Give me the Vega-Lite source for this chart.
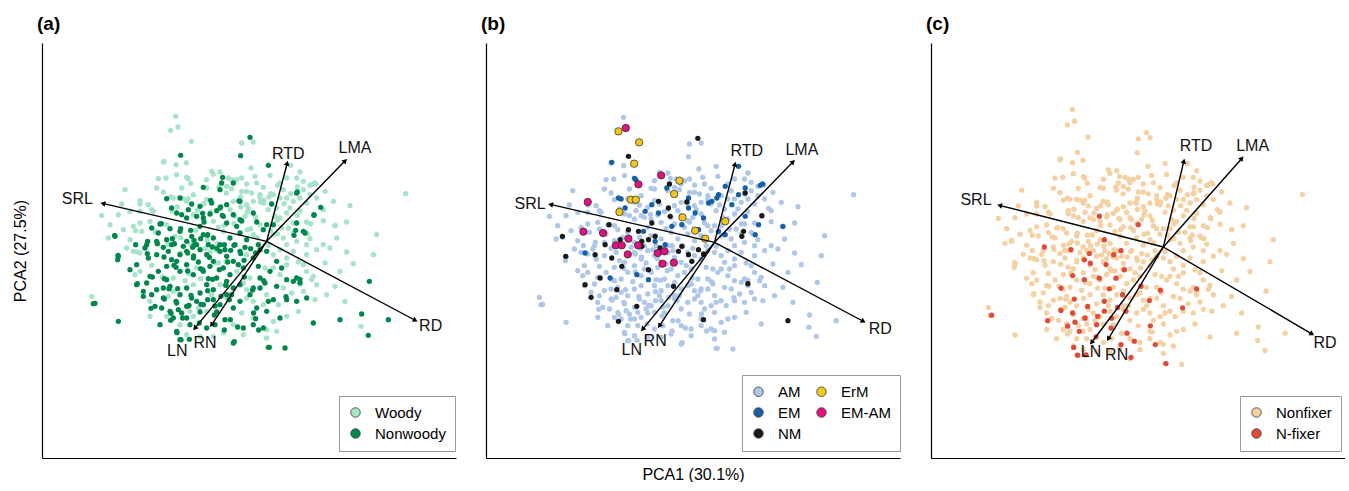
{
  "$schema": "https://vega.github.io/schema/vega-lite/v6.json",
  "padding": {"left": 12, "top": 15, "right": 0, "bottom": 0},
  "spacing": 25,
  "resolve": {"scale": {"color": "independent", "x": "independent", "y": "independent"}, "legend": {"color": "independent"}},
  "config": {
    "font": "Liberation Sans",
    "view": {"stroke": null},
    "axis": {"domainColor": "black", "domainWidth": 1.2, "ticks": false, "labels": false, "grid": false, "titleFont": "Liberation Sans", "titleFontSize": 16, "titleFontWeight": "normal", "titleColor": "black"},
    "legend": {"strokeColor": "#999", "fillColor": "white", "padding": 9, "labelFontSize": 15, "labelFont": "Liberation Sans", "labelColor": "black", "symbolType": "circle", "symbolSize": 90, "labelOffset": 12, "rowPadding": 5, "columnPadding": 12},
    "title": {"anchor": "start", "frame": "group", "fontSize": 19, "fontWeight": "bold", "dx": -5, "offset": 9, "color": "black"}
  },
  "datasets": {
    "load": [
      {"v": "SRL", "x": -489, "y": 113},
      {"v": "RTD", "x": 61, "y": 232},
      {"v": "LMA", "x": 234, "y": 240},
      {"v": "RD", "x": 444, "y": -236},
      {"v": "LN", "x": -214, "y": -259},
      {"v": "RN", "x": -164, "y": -249}
    ],
    "lab": [
      {"p": "a", "v": "SRL", "x": -568, "y": 128},
      {"p": "a", "v": "RTD", "x": 65, "y": 262},
      {"p": "a", "v": "LMA", "x": 265, "y": 280},
      {"p": "a", "v": "RD", "x": 492, "y": -255},
      {"p": "a", "v": "LN", "x": -268, "y": -328},
      {"p": "a", "v": "RN", "x": -185, "y": -305},
      {"p": "b", "v": "SRL", "x": -553, "y": 115},
      {"p": "b", "v": "RTD", "x": 97, "y": 273},
      {"p": "b", "v": "LMA", "x": 262, "y": 278},
      {"p": "b", "v": "RD", "x": 497, "y": -259},
      {"p": "b", "v": "LN", "x": -248, "y": -322},
      {"p": "b", "v": "RN", "x": -178, "y": -297},
      {"p": "c", "v": "SRL", "x": -562, "y": 127},
      {"p": "c", "v": "RTD", "x": 98, "y": 275},
      {"p": "c", "v": "LMA", "x": 268, "y": 275},
      {"p": "c", "v": "RD", "x": 485, "y": -262},
      {"p": "c", "v": "LN", "x": -217, "y": -286},
      {"p": "c", "v": "RN", "x": -140, "y": -295}
    ],
    "pts": [
      {"x":-273,"y":375,"w":"W","m":"AM","n":"F"},{"x":-75,"y":295,"w":"W","m":"AM","n":"F"},{"x":-50,"y":312,"w":"N","m":"NM","n":"F"},{"x":-40,"y":298,"w":"W","m":"AM","n":"F"},
      {"x":-78,"y":257,"w":"N","m":"AM","n":"F"},{"x":-310,"y":238,"w":"W","m":"AM","n":"F"},{"x":-272,"y":230,"w":"W","m":"AM","n":"F"},{"x":5,"y":228,"w":"N","m":"AM","n":"F"},
      {"x":-47,"y":220,"w":"W","m":"AM","n":"F"},{"x":-165,"y":210,"w":"W","m":"AM","n":"F"},{"x":-140,"y":208,"w":"W","m":"AM","n":"F"},{"x":-270,"y":200,"w":"W","m":"AM","n":"F"},
      {"x":-240,"y":192,"w":"W","m":"EM","n":"F"},{"x":-325,"y":188,"w":"W","m":"AM","n":"F"},{"x":-302,"y":190,"w":"W","m":"AM","n":"F"},{"x":-132,"y":192,"w":"N","m":"AM","n":"F"},
      {"x":-115,"y":190,"w":"W","m":"AM","n":"F"},{"x":-90,"y":185,"w":"W","m":"AM","n":"F"},{"x":-75,"y":190,"w":"W","m":"AM","n":"F"},{"x":-60,"y":172,"w":"W","m":"AM","n":"F"},
      {"x":100,"y":208,"w":"W","m":"AM","n":"F"},{"x":90,"y":190,"w":"W","m":"AM","n":"F"},{"x":-180,"y":185,"w":"W","m":"AM","n":"F"},{"x":10,"y":198,"w":"W","m":"AM","n":"F"},
      {"x":-425,"y":155,"w":"W","m":"AM","n":"F"},{"x":-310,"y":148,"w":"W","m":"AM","n":"F"},{"x":-180,"y":160,"w":"W","m":"AM","n":"F"},{"x":-190,"y":162,"w":"N","m":"AM","n":"F"},
      {"x":-140,"y":155,"w":"N","m":"AM","n":"F"},{"x":-105,"y":158,"w":"W","m":"AM","n":"F"},{"x":-100,"y":175,"w":"N","m":"AM","n":"F"},{"x":-75,"y":150,"w":"W","m":"AM","n":"F"},
      {"x":-60,"y":150,"w":"W","m":"AM","n":"F"},{"x":90,"y":145,"w":"N","m":"AM","n":"F"},{"x":130,"y":168,"w":"W","m":"AM","n":"F"},{"x":148,"y":172,"w":"W","m":"AM","n":"F"},
      {"x":110,"y":155,"w":"W","m":"AM","n":"F"},{"x":-20,"y":140,"w":"W","m":"AM","n":"F"},{"x":20,"y":140,"w":"W","m":"AM","n":"F"},{"x":-220,"y":140,"w":"W","m":"AM","n":"F"},
      {"x":-495,"y":78,"w":"W","m":"AM","n":"F"},{"x":-435,"y":112,"w":"W","m":"AM","n":"F"},{"x":-380,"y":112,"w":"W","m":"AM","n":"F"},{"x":-355,"y":110,"w":"W","m":"AM","n":"F"},
      {"x":-300,"y":128,"w":"N","m":"AM","n":"F"},{"x":-280,"y":130,"w":"W","m":"EM","n":"F"},{"x":-260,"y":130,"w":"N","m":"AM","n":"F"},{"x":-240,"y":120,"w":"W","m":"AM","n":"F"},
      {"x":-225,"y":112,"w":"N","m":"AM","n":"F"},{"x":-200,"y":105,"w":"N","m":"AM","n":"F"},{"x":-180,"y":125,"w":"W","m":"AM","n":"F"},{"x":-165,"y":115,"w":"N","m":"AM","n":"F"},
      {"x":-140,"y":100,"w":"N","m":"AM","n":"F"},{"x":-120,"y":110,"w":"N","m":"AM","n":"F"},{"x":-100,"y":120,"w":"W","m":"AM","n":"F"},{"x":-80,"y":120,"w":"N","m":"AM","n":"F"},
      {"x":-60,"y":110,"w":"W","m":"AM","n":"F"},{"x":-40,"y":120,"w":"W","m":"AM","n":"F"},{"x":-20,"y":130,"w":"W","m":"AM","n":"F"},{"x":-10,"y":115,"w":"W","m":"AM","n":"F"},
      {"x":15,"y":112,"w":"N","m":"AM","n":"F"},{"x":40,"y":130,"w":"W","m":"AM","n":"F"},{"x":60,"y":130,"w":"W","m":"AM","n":"F"},{"x":80,"y":120,"w":"W","m":"AM","n":"F"},
      {"x":100,"y":130,"w":"W","m":"AM","n":"F"},{"x":120,"y":115,"w":"W","m":"AM","n":"F"},{"x":162,"y":102,"w":"N","m":"AM","n":"F"},{"x":250,"y":107,"w":"W","m":"AM","n":"F"},
      {"x":417,"y":143,"w":"W","m":"AM","n":"F"},{"x":-445,"y":80,"w":"W","m":"AM","n":"F"},{"x":-410,"y":90,"w":"W","m":"AM","n":"F"},{"x":-380,"y":90,"w":"W","m":"AM","n":"F"},
      {"x":-340,"y":90,"w":"W","m":"AM","n":"F"},{"x":-470,"y":50,"w":"W","m":"AM","n":"F"},{"x":-380,"y":55,"w":"W","m":"AM","n":"F"},{"x":-350,"y":60,"w":"W","m":"AM","n":"F"},
      {"x":-320,"y":52,"w":"N","m":"AM","n":"F"},{"x":-300,"y":50,"w":"W","m":"AM","n":"F"},{"x":-270,"y":85,"w":"N","m":"AM","n":"F"},{"x":-255,"y":80,"w":"N","m":"AM","n":"F"},
      {"x":-240,"y":70,"w":"N","m":"AM","n":"F"},{"x":-220,"y":80,"w":"W","m":"AM","n":"F"},{"x":-210,"y":75,"w":"N","m":"AM","n":"F"},{"x":-190,"y":70,"w":"N","m":"AM","n":"F"},
      {"x":-170,"y":82,"w":"N","m":"AM","n":"F"},{"x":-160,"y":60,"w":"W","m":"AM","n":"F"},{"x":-130,"y":75,"w":"N","m":"AM","n":"F"},{"x":-120,"y":55,"w":"N","m":"AM","n":"F"},
      {"x":-100,"y":80,"w":"N","m":"AM","n":"F"},{"x":-80,"y":65,"w":"N","m":"AM","n":"F"},{"x":-65,"y":75,"w":"W","m":"AM","n":"F"},{"x":-40,"y":85,"w":"N","m":"AM","n":"F"},
      {"x":-30,"y":58,"w":"N","m":"AM","n":"F"},{"x":-20,"y":50,"w":"W","m":"AM","n":"F"},{"x":0,"y":50,"w":"N","m":"AM","n":"F"},{"x":20,"y":50,"w":"N","m":"AM","n":"F"},
      {"x":40,"y":70,"w":"W","m":"AM","n":"F"},{"x":60,"y":85,"w":"W","m":"AM","n":"F"},{"x":80,"y":55,"w":"W","m":"AM","n":"F"},{"x":90,"y":55,"w":"N","m":"AM","n":"F"},
      {"x":120,"y":58,"w":"W","m":"AM","n":"F"},{"x":142,"y":78,"w":"N","m":"AM","n":"F"},{"x":205,"y":47,"w":"W","m":"AM","n":"F"},{"x":240,"y":58,"w":"W","m":"AM","n":"F"},
      {"x":110,"y":30,"w":"N","m":"AM","n":"F"},{"x":-475,"y":10,"w":"W","m":"AM","n":"F"},{"x":-455,"y":15,"w":"N","m":"AM","n":"F"},{"x":-430,"y":35,"w":"W","m":"AM","n":"F"},
      {"x":-410,"y":5,"w":"W","m":"AM","n":"F"},{"x":-393,"y":-10,"w":"N","m":"AM","n":"F"},{"x":-375,"y":30,"w":"W","m":"AM","n":"F"},{"x":-360,"y":-10,"w":"N","m":"AM","n":"F"},
      {"x":-330,"y":0,"w":"N","m":"AM","n":"F"},{"x":-325,"y":25,"w":"N","m":"AM","n":"F"},{"x":-300,"y":5,"w":"N","m":"AM","n":"F"},{"x":-285,"y":-10,"w":"N","m":"AM","n":"F"},
      {"x":-275,"y":15,"w":"W","m":"AM","n":"F"},{"x":-260,"y":30,"w":"N","m":"AM","n":"F"},{"x":-240,"y":0,"w":"N","m":"AM","n":"F"},{"x":-225,"y":15,"w":"N","m":"AM","n":"F"},
      {"x":-210,"y":-10,"w":"N","m":"AM","n":"F"},{"x":-190,"y":20,"w":"N","m":"AM","n":"F"},{"x":-175,"y":-10,"w":"N","m":"AM","n":"F"},{"x":-160,"y":10,"w":"N","m":"AM","n":"F"},
      {"x":-140,"y":-10,"w":"N","m":"AM","n":"F"},{"x":-130,"y":30,"w":"W","m":"AM","n":"F"},{"x":-110,"y":10,"w":"N","m":"AM","n":"F"},{"x":-95,"y":-10,"w":"N","m":"AM","n":"F"},
      {"x":-80,"y":25,"w":"N","m":"AM","n":"F"},{"x":-60,"y":5,"w":"N","m":"AM","n":"F"},{"x":-40,"y":20,"w":"W","m":"AM","n":"F"},{"x":-25,"y":-10,"w":"N","m":"AM","n":"F"},
      {"x":20,"y":20,"w":"W","m":"AM","n":"F"},{"x":50,"y":10,"w":"W","m":"AM","n":"F"},{"x":80,"y":25,"w":"W","m":"AM","n":"F"},{"x":115,"y":25,"w":"N","m":"AM","n":"F"},
      {"x":120,"y":-10,"w":"W","m":"AM","n":"F"},{"x":170,"y":-10,"w":"W","m":"AM","n":"F"},{"x":60,"y":-10,"w":"W","m":"AM","n":"F"},{"x":90,"y":0,"w":"W","m":"AM","n":"F"},
      {"x":-445,"y":-45,"w":"N","m":"AM","n":"F"},{"x":-447,"y":-55,"w":"N","m":"AM","n":"F"},{"x":-400,"y":-30,"w":"W","m":"AM","n":"F"},{"x":-380,"y":-35,"w":"W","m":"AM","n":"F"},
      {"x":-365,"y":-20,"w":"N","m":"AM","n":"F"},{"x":-355,"y":-50,"w":"N","m":"AM","n":"F"},{"x":-330,"y":-40,"w":"N","m":"AM","n":"F"},{"x":-295,"y":-30,"w":"N","m":"AM","n":"F"},
      {"x":-270,"y":-60,"w":"N","m":"AM","n":"F"},{"x":-260,"y":-40,"w":"N","m":"AM","n":"F"},{"x":-240,"y":-30,"w":"N","m":"AM","n":"F"},{"x":-220,"y":-50,"w":"N","m":"AM","n":"F"},
      {"x":-200,"y":-25,"w":"N","m":"AM","n":"F"},{"x":-180,"y":-40,"w":"N","m":"AM","n":"F"},{"x":-160,"y":-60,"w":"N","m":"AM","n":"F"},{"x":-140,"y":-30,"w":"N","m":"AM","n":"F"},
      {"x":-120,"y":-45,"w":"N","m":"AM","n":"F"},{"x":-100,"y":-60,"w":"N","m":"AM","n":"F"},{"x":-80,"y":-30,"w":"N","m":"AM","n":"F"},{"x":-60,"y":-40,"w":"W","m":"AM","n":"F"},
      {"x":-40,"y":-50,"w":"N","m":"AM","n":"F"},{"x":-20,"y":-25,"w":"N","m":"AM","n":"F"},{"x":0,"y":-30,"w":"N","m":"AM","n":"F"},{"x":20,"y":-40,"w":"W","m":"AM","n":"F"},
      {"x":30,"y":-60,"w":"N","m":"AM","n":"F"},{"x":60,"y":-50,"w":"W","m":"AM","n":"F"},{"x":80,"y":-30,"w":"W","m":"AM","n":"F"},{"x":120,"y":-40,"w":"W","m":"AM","n":"F"},
      {"x":150,"y":-25,"w":"W","m":"AM","n":"F"},{"x":240,"y":-32,"w":"W","m":"AM","n":"F"},{"x":175,"y":-65,"w":"W","m":"AM","n":"F"},{"x":260,"y":-67,"w":"W","m":"AM","n":"F"},
      {"x":-390,"y":-70,"w":"N","m":"AM","n":"F"},{"x":-380,"y":-90,"w":"W","m":"AM","n":"F"},{"x":-350,"y":-105,"w":"N","m":"AM","n":"F"},{"x":-325,"y":-90,"w":"N","m":"AM","n":"F"},
      {"x":-300,"y":-75,"w":"N","m":"AM","n":"F"},{"x":-280,"y":-110,"w":"W","m":"AM","n":"F"},{"x":-260,"y":-90,"w":"N","m":"AM","n":"F"},{"x":-240,"y":-70,"w":"N","m":"AM","n":"F"},
      {"x":-220,"y":-100,"w":"N","m":"AM","n":"F"},{"x":-210,"y":-80,"w":"W","m":"AM","n":"F"},{"x":-190,"y":-90,"w":"N","m":"AM","n":"F"},{"x":-170,"y":-75,"w":"N","m":"AM","n":"F"},
      {"x":-150,"y":-110,"w":"N","m":"AM","n":"F"},{"x":-130,"y":-80,"w":"N","m":"AM","n":"F"},{"x":-110,"y":-100,"w":"N","m":"AM","n":"F"},{"x":-90,"y":-90,"w":"W","m":"AM","n":"F"},
      {"x":-70,"y":-80,"w":"N","m":"AM","n":"F"},{"x":-50,"y":-110,"w":"W","m":"AM","n":"F"},{"x":-20,"y":-110,"w":"N","m":"AM","n":"F"},{"x":10,"y":-90,"w":"N","m":"AM","n":"F"},
      {"x":20,"y":-80,"w":"W","m":"AM","n":"F"},{"x":60,"y":-70,"w":"W","m":"AM","n":"F"},{"x":90,"y":-110,"w":"N","m":"AM","n":"F"},{"x":120,"y":-90,"w":"W","m":"AM","n":"F"},
      {"x":140,"y":-105,"w":"W","m":"AM","n":"F"},{"x":-395,"y":-100,"w":"W","m":"AM","n":"F"},{"x":-390,"y":-130,"w":"N","m":"AM","n":"F"},{"x":-370,"y":-150,"w":"N","m":"AM","n":"F"},
      {"x":-330,"y":-145,"w":"N","m":"AM","n":"F"},{"x":-310,"y":-140,"w":"N","m":"AM","n":"F"},{"x":-290,"y":-135,"w":"N","m":"AM","n":"F"},{"x":-280,"y":-150,"w":"W","m":"AM","n":"F"},
      {"x":-260,"y":-160,"w":"N","m":"AM","n":"F"},{"x":-240,"y":-140,"w":"N","m":"AM","n":"F"},{"x":-220,"y":-130,"w":"W","m":"AM","n":"F"},{"x":-200,"y":-155,"w":"N","m":"AM","n":"F"},
      {"x":-180,"y":-130,"w":"N","m":"AM","n":"F"},{"x":-160,"y":-145,"w":"N","m":"AM","n":"F"},{"x":-140,"y":-130,"w":"W","m":"AM","n":"F"},{"x":-120,"y":-160,"w":"N","m":"AM","n":"F"},
      {"x":-100,"y":-140,"w":"N","m":"AM","n":"F"},{"x":-80,"y":-130,"w":"N","m":"AM","n":"F"},{"x":-60,"y":-145,"w":"W","m":"AM","n":"F"},{"x":-40,"y":-140,"w":"N","m":"AM","n":"F"},
      {"x":-20,"y":-140,"w":"N","m":"AM","n":"F"},{"x":0,"y":-160,"w":"W","m":"AM","n":"F"},{"x":30,"y":-135,"w":"N","m":"AM","n":"F"},{"x":60,"y":-115,"w":"N","m":"AM","n":"F"},
      {"x":80,"y":-120,"w":"N","m":"AM","n":"F"},{"x":100,"y":-130,"w":"W","m":"AM","n":"F"},{"x":150,"y":-130,"w":"W","m":"AM","n":"F"},{"x":205,"y":-135,"w":"W","m":"AM","n":"F"},
      {"x":308,"y":-120,"w":"N","m":"AM","n":"F"},{"x":-525,"y":-165,"w":"W","m":"AM","n":"F"},{"x":135,"y":-115,"w":"W","m":"AM","n":"F"},{"x":-520,"y":-187,"w":"N","m":"AM","n":"F"},
      {"x":-350,"y":-180,"w":"W","m":"AM","n":"F"},{"x":-335,"y":-195,"w":"N","m":"AM","n":"F"},{"x":-310,"y":-170,"w":"N","m":"AM","n":"F"},{"x":-290,"y":-210,"w":"N","m":"AM","n":"F"},
      {"x":-270,"y":-185,"w":"N","m":"AM","n":"F"},{"x":-240,"y":-195,"w":"N","m":"AM","n":"F"},{"x":-230,"y":-210,"w":"W","m":"AM","n":"F"},{"x":-210,"y":-180,"w":"N","m":"AM","n":"F"},
      {"x":-190,"y":-190,"w":"N","m":"AM","n":"F"},{"x":-180,"y":-210,"w":"W","m":"AM","n":"F"},{"x":-160,"y":-175,"w":"N","m":"AM","n":"F"},{"x":-140,"y":-190,"w":"N","m":"AM","n":"F"},
      {"x":-120,"y":-170,"w":"W","m":"AM","n":"F"},{"x":-100,"y":-200,"w":"N","m":"AM","n":"F"},{"x":-80,"y":-180,"w":"N","m":"AM","n":"F"},{"x":-60,"y":-170,"w":"W","m":"AM","n":"F"},
      {"x":-40,"y":-180,"w":"W","m":"AM","n":"F"},{"x":-30,"y":-200,"w":"N","m":"AM","n":"F"},{"x":-10,"y":-190,"w":"W","m":"AM","n":"F"},{"x":20,"y":-175,"w":"N","m":"AM","n":"F"},
      {"x":35,"y":-190,"w":"W","m":"AM","n":"F"},{"x":60,"y":-175,"w":"N","m":"AM","n":"F"},{"x":90,"y":-180,"w":"N","m":"AM","n":"F"},{"x":120,"y":-170,"w":"N","m":"AM","n":"F"},
      {"x":145,"y":-175,"w":"W","m":"AM","n":"F"},{"x":235,"y":-180,"w":"W","m":"AM","n":"F"},{"x":-445,"y":-240,"w":"N","m":"AM","n":"F"},{"x":-350,"y":-225,"w":"W","m":"AM","n":"F"},
      {"x":-300,"y":-225,"w":"W","m":"AM","n":"F"},{"x":-280,"y":-230,"w":"N","m":"AM","n":"F"},{"x":-260,"y":-250,"w":"W","m":"AM","n":"F"},{"x":-240,"y":-230,"w":"N","m":"AM","n":"F"},
      {"x":-220,"y":-225,"w":"W","m":"AM","n":"F"},{"x":-180,"y":-260,"w":"N","m":"AM","n":"F"},{"x":-155,"y":-250,"w":"N","m":"AM","n":"F"},{"x":-125,"y":-235,"w":"N","m":"AM","n":"F"},
      {"x":-100,"y":-250,"w":"W","m":"AM","n":"F"},{"x":-70,"y":-260,"w":"N","m":"AM","n":"F"},{"x":-40,"y":-230,"w":"W","m":"AM","n":"F"},{"x":-10,"y":-260,"w":"N","m":"AM","n":"F"},
      {"x":20,"y":-240,"w":"W","m":"AM","n":"F"},{"x":40,"y":-230,"w":"N","m":"AM","n":"F"},{"x":60,"y":-225,"w":"W","m":"AM","n":"F"},{"x":140,"y":-245,"w":"N","m":"AM","n":"F"},
      {"x":220,"y":-235,"w":"N","m":"NM","n":"F"},{"x":285,"y":-218,"w":"N","m":"AM","n":"F"},{"x":365,"y":-235,"w":"N","m":"AM","n":"F"},{"x":283,"y":-255,"w":"W","m":"AM","n":"F"},
      {"x":0,"y":-265,"w":"W","m":"AM","n":"F"},{"x":-270,"y":-270,"w":"N","m":"AM","n":"F"},{"x":-260,"y":-295,"w":"N","m":"AM","n":"F"},{"x":-240,"y":-280,"w":"W","m":"AM","n":"F"},
      {"x":-200,"y":-285,"w":"W","m":"AM","n":"F"},{"x":-100,"y":-305,"w":"N","m":"AM","n":"F"},{"x":-70,"y":-280,"w":"W","m":"AM","n":"F"},{"x":5,"y":-318,"w":"N","m":"AM","n":"F"},
      {"x":55,"y":-320,"w":"N","m":"AM","n":"F"},{"x":0,"y":-290,"w":"W","m":"AM","n":"F"},{"x":305,"y":-282,"w":"N","m":"AM","n":"F"},{"x":-160,"y":-285,"w":"W","m":"AM","n":"F"},
      {"x":30,"y":100,"w":"W","m":"AM","n":"F"},{"x":50,"y":155,"w":"W","m":"AM","n":"F"},{"x":70,"y":100,"w":"W","m":"AM","n":"F"},{"x":100,"y":92,"w":"W","m":"AM","n":"F"},
      {"x":130,"y":140,"w":"W","m":"AM","n":"F"},{"x":-10,"y":162,"w":"W","m":"AM","n":"F"},{"x":150,"y":130,"w":"W","m":"AM","n":"F"},{"x":170,"y":62,"w":"W","m":"AM","n":"F"},
      {"x":130,"y":8,"w":"W","m":"AM","n":"F"},{"x":45,"y":40,"w":"W","m":"AM","n":"F"},{"x":190,"y":-20,"w":"W","m":"AM","n":"F"},{"x":95,"y":-62,"w":"W","m":"AM","n":"F"},
      {"x":170,"y":95,"w":"W","m":"AM","n":"F"},{"x":-30,"y":175,"w":"W","m":"AM","n":"F"},{"x":60,"y":190,"w":"W","m":"AM","n":"F"},{"x":110,"y":-150,"w":"W","m":"AM","n":"F"},
      {"x":40,"y":-100,"w":"W","m":"AM","n":"F"},{"x":-5,"y":-80,"w":"W","m":"AM","n":"F"},{"x":25,"y":75,"w":"W","m":"AM","n":"F"},{"x":-45,"y":145,"w":"W","m":"AM","n":"F"},
      {"x":-345,"y":95,"w":"W","m":"AM","n":"F"},{"x":-285,"y":100,"w":"N","m":"AM","n":"F"},{"x":-235,"y":95,"w":"N","m":"AM","n":"F"},{"x":-150,"y":92,"w":"N","m":"AM","n":"F"},
      {"x":-110,"y":95,"w":"W","m":"AM","n":"F"},{"x":-55,"y":98,"w":"W","m":"AM","n":"F"},{"x":5,"y":95,"w":"W","m":"AM","n":"F"},{"x":-400,"y":45,"w":"W","m":"AM","n":"F"},
      {"x":-345,"y":40,"w":"N","m":"AM","n":"F"},{"x":-290,"y":38,"w":"N","m":"AM","n":"F"},{"x":-200,"y":45,"w":"N","m":"AM","n":"F"},{"x":-145,"y":42,"w":"W","m":"AM","n":"F"},
      {"x":-90,"y":45,"w":"N","m":"AM","n":"F"},{"x":-10,"y":35,"w":"N","m":"AM","n":"F"},{"x":65,"y":40,"w":"W","m":"AM","n":"F"},{"x":-420,"y":-20,"w":"W","m":"AM","n":"F"},
      {"x":-310,"y":-18,"w":"N","m":"AM","n":"F"},{"x":-250,"y":-15,"w":"N","m":"AM","n":"F"},{"x":-185,"y":-22,"w":"W","m":"AM","n":"F"},{"x":-125,"y":-25,"w":"N","m":"AM","n":"F"},
      {"x":-65,"y":-18,"w":"N","m":"AM","n":"F"},{"x":5,"y":-12,"w":"W","m":"AM","n":"F"},{"x":40,"y":-25,"w":"W","m":"AM","n":"F"},{"x":-410,"y":-85,"w":"N","m":"AM","n":"F"},
      {"x":-345,"y":-72,"w":"W","m":"AM","n":"F"},{"x":-285,"y":-55,"w":"N","m":"AM","n":"F"},{"x":-205,"y":-62,"w":"N","m":"AM","n":"F"},{"x":-145,"y":-65,"w":"W","m":"AM","n":"F"},
      {"x":-85,"y":-70,"w":"N","m":"AM","n":"F"},{"x":-25,"y":-75,"w":"N","m":"AM","n":"F"},{"x":45,"y":-80,"w":"N","m":"AM","n":"F"},{"x":110,"y":-70,"w":"W","m":"AM","n":"F"},
      {"x":-360,"y":-125,"w":"N","m":"AM","n":"F"},{"x":-300,"y":-115,"w":"N","m":"AM","n":"F"},{"x":-245,"y":-118,"w":"W","m":"AM","n":"F"},{"x":-175,"y":-112,"w":"N","m":"AM","n":"F"},
      {"x":-120,"y":-120,"w":"N","m":"AM","n":"F"},{"x":-70,"y":-125,"w":"W","m":"AM","n":"F"},{"x":-5,"y":-125,"w":"N","m":"AM","n":"F"},{"x":50,"y":-140,"w":"W","m":"AM","n":"F"},
      {"x":-345,"y":-160,"w":"N","m":"AM","n":"F"},{"x":-295,"y":-165,"w":"W","m":"AM","n":"F"},{"x":-225,"y":-170,"w":"N","m":"AM","n":"F"},{"x":-165,"y":-160,"w":"W","m":"AM","n":"F"},
      {"x":-105,"y":-160,"w":"N","m":"AM","n":"F"},{"x":-50,"y":-160,"w":"N","m":"AM","n":"F"},{"x":5,"y":-180,"w":"N","m":"AM","n":"F"},{"x":75,"y":-155,"w":"W","m":"AM","n":"F"},
      {"x":-315,"y":-200,"w":"N","m":"AM","n":"F"},{"x":-255,"y":-215,"w":"N","m":"AM","n":"F"},{"x":-205,"y":-200,"w":"W","m":"AM","n":"F"},{"x":-150,"y":-212,"w":"N","m":"AM","n":"F"},
      {"x":-75,"y":-215,"w":"W","m":"AM","n":"F"},{"x":0,"y":-210,"w":"N","m":"AM","n":"F"},{"x":95,"y":-210,"w":"W","m":"AM","n":"F"},{"x":-320,"y":-250,"w":"N","m":"AM","n":"F"},
      {"x":-230,"y":-250,"w":"N","m":"AM","n":"F"},{"x":-130,"y":-275,"w":"W","m":"AM","n":"F"},{"x":-40,"y":-250,"w":"N","m":"AM","n":"F"},{"x":30,"y":-270,"w":"W","m":"AM","n":"F"},
      {"x":-330,"y":160,"w":"W","m":"AM","n":"F"},{"x":-255,"y":160,"w":"W","m":"AM","n":"F"},{"x":-120,"y":165,"w":"W","m":"AM","n":"F"},{"x":-35,"y":195,"w":"W","m":"AM","n":"F"},
      {"x":40,"y":175,"w":"W","m":"AM","n":"F"},{"x":110,"y":180,"w":"W","m":"AM","n":"F"},{"x":175,"y":150,"w":"W","m":"AM","n":"F"},{"x":200,"y":120,"w":"W","m":"AM","n":"F"},
      {"x":210,"y":10,"w":"W","m":"AM","n":"F"},{"x":220,"y":-90,"w":"W","m":"AM","n":"F"},{"x":180,"y":-160,"w":"W","m":"AM","n":"F"},{"x":320,"y":-40,"w":"W","m":"AM","n":"F"},
      {"x":330,"y":20,"w":"W","m":"AM","n":"F"},
      {"x":-308,"y":240,"w":"W","m":"EM","n":"F"},{"x":-236,"y":188,"w":"W","m":"EM","n":"F"},{"x":-288,"y":133,"w":"W","m":"EM","n":"F"},{"x":-268,"y":103,"w":"W","m":"EM","n":"F"},
      {"x":-188,"y":113,"w":"W","m":"EM","n":"F"},{"x":-168,"y":88,"w":"W","m":"EM","n":"F"},{"x":-143,"y":163,"w":"W","m":"EM","n":"F"},{"x":-78,"y":133,"w":"W","m":"EM","n":"F"},
      {"x":-58,"y":88,"w":"W","m":"EM","n":"F"},{"x":-33,"y":73,"w":"W","m":"EM","n":"F"},{"x":-18,"y":118,"w":"W","m":"EM","n":"F"},{"x":-8,"y":123,"w":"W","m":"EM","n":"F"},
      {"x":7,"y":133,"w":"W","m":"EM","n":"F"},{"x":12,"y":143,"w":"W","m":"EM","n":"F"},{"x":32,"y":168,"w":"W","m":"EM","n":"F"},{"x":52,"y":113,"w":"W","m":"EM","n":"F"},
      {"x":72,"y":143,"w":"W","m":"EM","n":"F"},{"x":92,"y":163,"w":"W","m":"EM","n":"F"},{"x":137,"y":171,"w":"W","m":"EM","n":"F"},{"x":144,"y":175,"w":"W","m":"EM","n":"F"},
      {"x":72,"y":228,"w":"W","m":"EM","n":"F"},{"x":-48,"y":38,"w":"W","m":"EM","n":"F"},{"x":12,"y":33,"w":"W","m":"EM","n":"F"},{"x":32,"y":23,"w":"W","m":"EM","n":"F"},
      {"x":92,"y":78,"w":"W","m":"EM","n":"F"},{"x":132,"y":53,"w":"W","m":"EM","n":"F"},{"x":122,"y":23,"w":"W","m":"EM","n":"F"},{"x":205,"y":48,"w":"W","m":"EM","n":"F"},
      {"x":-213,"y":33,"w":"W","m":"EM","n":"F"},{"x":-208,"y":93,"w":"W","m":"EM","n":"F"},{"x":-178,"y":3,"w":"W","m":"EM","n":"F"},{"x":-148,"y":-7,"w":"W","m":"EM","n":"F"},
      {"x":-198,"y":-112,"w":"W","m":"EM","n":"F"},{"x":-313,"y":-107,"w":"W","m":"EM","n":"F"},{"x":-388,"y":-32,"w":"W","m":"EM","n":"F"},{"x":-233,"y":-97,"w":"W","m":"EM","n":"F"},
      {"x":-128,"y":48,"w":"W","m":"EM","n":"F"},{"x":-98,"y":53,"w":"W","m":"EM","n":"F"},{"x":-78,"y":103,"w":"W","m":"EM","n":"F"},
      {"x":-258,"y":258,"w":"N","m":"NM","n":"F"},{"x":-135,"y":175,"w":"N","m":"NM","n":"F"},{"x":-83,"y":121,"w":"N","m":"NM","n":"F"},{"x":-138,"y":103,"w":"N","m":"NM","n":"F"},
      {"x":-133,"y":78,"w":"N","m":"NM","n":"F"},{"x":-168,"y":123,"w":"N","m":"NM","n":"F"},{"x":-188,"y":58,"w":"N","m":"NM","n":"F"},{"x":-316,"y":53,"w":"N","m":"NM","n":"F"},
      {"x":-258,"y":38,"w":"N","m":"NM","n":"F"},{"x":-228,"y":33,"w":"N","m":"NM","n":"F"},{"x":-218,"y":3,"w":"N","m":"NM","n":"F"},{"x":-178,"y":18,"w":"N","m":"NM","n":"F"},
      {"x":-163,"y":-17,"w":"N","m":"NM","n":"F"},{"x":-198,"y":8,"w":"N","m":"NM","n":"F"},{"x":-283,"y":8,"w":"N","m":"NM","n":"F"},{"x":-328,"y":-7,"w":"N","m":"NM","n":"F"},
      {"x":-358,"y":-37,"w":"N","m":"NM","n":"F"},{"x":-308,"y":-47,"w":"N","m":"NM","n":"F"},{"x":-446,"y":-42,"w":"N","m":"NM","n":"F"},{"x":-456,"y":18,"w":"N","m":"NM","n":"F"},
      {"x":-388,"y":-127,"w":"N","m":"NM","n":"F"},{"x":-370,"y":-165,"w":"N","m":"NM","n":"F"},{"x":-343,"y":-107,"w":"N","m":"NM","n":"F"},{"x":-293,"y":-142,"w":"N","m":"NM","n":"F"},
      {"x":-233,"y":-192,"w":"N","m":"NM","n":"F"},{"x":-288,"y":-237,"w":"N","m":"NM","n":"F"},{"x":-198,"y":-82,"w":"N","m":"NM","n":"F"},{"x":-123,"y":-132,"w":"N","m":"NM","n":"F"},
      {"x":-108,"y":-27,"w":"N","m":"NM","n":"F"},{"x":-98,"y":-12,"w":"N","m":"NM","n":"F"},{"x":-78,"y":-37,"w":"N","m":"NM","n":"F"},{"x":-68,"y":-57,"w":"N","m":"NM","n":"F"},
      {"x":-48,"y":-22,"w":"N","m":"NM","n":"F"},{"x":-33,"y":-35,"w":"N","m":"NM","n":"F"},{"x":92,"y":148,"w":"N","m":"NM","n":"F"},{"x":87,"y":33,"w":"N","m":"NM","n":"F"},
      {"x":82,"y":18,"w":"N","m":"NM","n":"F"},{"x":142,"y":80,"w":"N","m":"NM","n":"F"},{"x":100,"y":-124,"w":"N","m":"NM","n":"F"},{"x":-33,"y":-232,"w":"N","m":"NM","n":"F"},
      {"x":-278,"y":-72,"w":"N","m":"NM","n":"F"},{"x":-218,"y":-12,"w":"N","m":"NM","n":"F"},
      {"x":-288,"y":333,"w":"W","m":"ErM","n":"F"},{"x":-226,"y":300,"w":"W","m":"ErM","n":"F"},{"x":-241,"y":236,"w":"W","m":"ErM","n":"F"},{"x":-105,"y":185,"w":"W","m":"ErM","n":"F"},
      {"x":-121,"y":145,"w":"W","m":"ErM","n":"F"},{"x":-251,"y":128,"w":"W","m":"ErM","n":"F"},{"x":-236,"y":128,"w":"W","m":"ErM","n":"F"},{"x":-285,"y":91,"w":"W","m":"ErM","n":"F"},
      {"x":-96,"y":75,"w":"W","m":"ErM","n":"F"},{"x":-58,"y":35,"w":"W","m":"ErM","n":"F"},{"x":-28,"y":11,"w":"W","m":"ErM","n":"F"},{"x":32,"y":63,"w":"W","m":"ErM","n":"F"},
      {"x":-266,"y":343,"w":"W","m":"EM-AM","n":"F"},{"x":-160,"y":201,"w":"W","m":"EM-AM","n":"F"},{"x":-228,"y":174,"w":"W","m":"EM-AM","n":"F"},{"x":-380,"y":121,"w":"W","m":"EM-AM","n":"F"},
      {"x":-393,"y":32,"w":"W","m":"EM-AM","n":"F"},{"x":-334,"y":28,"w":"W","m":"EM-AM","n":"F"},{"x":-296,"y":-9,"w":"W","m":"EM-AM","n":"F"},{"x":-278,"y":-9,"w":"W","m":"EM-AM","n":"F"},
      {"x":-258,"y":11,"w":"W","m":"EM-AM","n":"F"},{"x":-229,"y":-9,"w":"W","m":"EM-AM","n":"F"},{"x":-260,"y":-36,"w":"W","m":"EM-AM","n":"F"},{"x":-170,"y":-32,"w":"W","m":"EM-AM","n":"F"},
      {"x":-150,"y":-27,"w":"W","m":"EM-AM","n":"F"},{"x":-156,"y":-64,"w":"W","m":"EM-AM","n":"F"},{"x":-122,"y":-61,"w":"W","m":"EM-AM","n":"F"},
      {"x":-192,"y":84,"w":"N","m":"AM","n":"X"},{"x":-75,"y":61,"w":"N","m":"AM","n":"X"},{"x":-357,"y":0,"w":"N","m":"AM","n":"X"},{"x":-277,"y":-7,"w":"N","m":"AM","n":"X"},
      {"x":-177,"y":20,"w":"N","m":"AM","n":"X"},{"x":-149,"y":-21,"w":"N","m":"AM","n":"X"},{"x":-127,"y":-10,"w":"N","m":"AM","n":"X"},{"x":-222,"y":-18,"w":"N","m":"AM","n":"X"},
      {"x":-237,"y":-35,"w":"N","m":"AM","n":"X"},{"x":-219,"y":-44,"w":"N","m":"AM","n":"X"},{"x":-172,"y":-48,"w":"N","m":"AM","n":"X"},{"x":-117,"y":-62,"w":"N","m":"AM","n":"X"},
      {"x":-237,"y":-89,"w":"N","m":"AM","n":"X"},{"x":-192,"y":-85,"w":"N","m":"AM","n":"X"},{"x":-142,"y":-85,"w":"N","m":"AM","n":"X"},{"x":-272,"y":-78,"w":"N","m":"AM","n":"X"},
      {"x":-307,"y":-112,"w":"N","m":"AM","n":"X"},{"x":-162,"y":-114,"w":"N","m":"AM","n":"X"},{"x":-67,"y":-107,"w":"N","m":"AM","n":"X"},{"x":-9,"y":-118,"w":"N","m":"AM","n":"X"},
      {"x":100,"y":-114,"w":"N","m":"AM","n":"X"},{"x":-267,"y":-142,"w":"N","m":"AM","n":"X"},{"x":-227,"y":-162,"w":"N","m":"AM","n":"X"},{"x":-177,"y":-148,"w":"N","m":"AM","n":"X"},
      {"x":-122,"y":-130,"w":"N","m":"AM","n":"X"},{"x":-177,"y":-175,"w":"N","m":"AM","n":"X"},{"x":-137,"y":-165,"w":"N","m":"AM","n":"X"},{"x":-42,"y":-146,"w":"N","m":"AM","n":"X"},
      {"x":58,"y":-166,"w":"N","m":"AM","n":"X"},{"x":-307,"y":-173,"w":"N","m":"AM","n":"X"},{"x":-272,"y":-180,"w":"N","m":"AM","n":"X"},{"x":-235,"y":-194,"w":"N","m":"AM","n":"X"},
      {"x":-197,"y":-189,"w":"N","m":"AM","n":"X"},{"x":-155,"y":-194,"w":"N","m":"AM","n":"X"},{"x":-112,"y":-175,"w":"N","m":"AM","n":"X"},{"x":-347,"y":-201,"w":"N","m":"AM","n":"X"},
      {"x":-287,"y":-216,"w":"N","m":"AM","n":"X"},{"x":-265,"y":-205,"w":"N","m":"AM","n":"X"},{"x":-252,"y":-230,"w":"N","m":"AM","n":"X"},{"x":-200,"y":-212,"w":"N","m":"AM","n":"X"},
      {"x":-157,"y":-221,"w":"N","m":"AM","n":"X"},{"x":-39,"y":-215,"w":"N","m":"AM","n":"X"},{"x":-109,"y":-235,"w":"N","m":"AM","n":"X"},{"x":-87,"y":-257,"w":"N","m":"AM","n":"X"},
      {"x":-24,"y":-266,"w":"N","m":"AM","n":"X"},{"x":-127,"y":-266,"w":"N","m":"AM","n":"X"},{"x":-269,"y":-274,"w":"N","m":"AM","n":"X"},{"x":-257,"y":-295,"w":"N","m":"AM","n":"X"},
      {"x":-232,"y":-294,"w":"N","m":"AM","n":"X"},{"x":-97,"y":-301,"w":"N","m":"AM","n":"X"},{"x":8,"y":-318,"w":"N","m":"AM","n":"X"},{"x":-515,"y":-186,"w":"N","m":"AM","n":"X"},
      {"x":-202,"y":-245,"w":"N","m":"AM","n":"X"}
    ]
  },
  "hconcat": [
    {
      "title": "(a)",
      "width": 414,
      "height": 415,
      "encoding": {
        "x": {"field": "x", "type": "quantitative", "scale": {"domain": [-674, 568], "nice": false, "zero": false}, "axis": {"title": null}},
        "y": {"field": "y", "type": "quantitative", "scale": {"domain": [-650, 595], "nice": false, "zero": false}, "axis": {"title": "PCA2 (27.5%)", "titlePadding": 14}}
      },
      "layer": [
        {
          "data": {"name": "pts"},
          "mark": {"type": "circle", "size": 28, "opacity": 1},
          "encoding": {
            "color": {"field": "w", "type": "nominal", "scale": {"domain": ["W", "N"], "range": ["#a6e3c8", "#00874b"]},
              "legend": {"title": null, "orient": "none", "legendX": 297, "legendY": 353, "labelExpr": "datum.label == 'W' ? 'Woody' : 'Nonwoody'",
                "symbolStrokeColor": "#333", "symbolStrokeWidth": 0.8}},
            "order": {"field": "w", "sort": "descending"}
          }
        },
        {"data": {"name": "load"}, "mark": {"type": "rule", "color": "black", "strokeWidth": 1.4},
          "encoding": {"x": {"datum": 0}, "y": {"datum": 0}, "x2": {"field": "x"}, "y2": {"field": "y"}}},
        {"data": {"name": "load"}, "transform": [{"calculate": "atan2(datum.x, datum.y) * 180 / PI", "as": "ang"}],
          "mark": {"type": "point", "shape": "triangle", "filled": true, "color": "black", "size": 32, "opacity": 1},
          "encoding": {"angle": {"field": "ang", "type": "quantitative", "scale": null}}},
        {"data": {"name": "lab"}, "transform": [{"filter": "datum.p == 'a'"}],
          "mark": {"type": "text", "fontSize": 16, "color": "#111"},
          "encoding": {"text": {"field": "v"}}},
        {"data": {"values": [{"k": 1}]}, "mark": {"type": "point", "shape": "triangle-up", "filled": true, "color": "black", "size": 40, "opacity": 1},
          "encoding": {"x": {"datum": -674}, "y": {"datum": 595}}},
        {"data": {"values": [{"k": 1}]}, "mark": {"type": "point", "shape": "triangle-right", "filled": true, "color": "black", "size": 40, "opacity": 1},
          "encoding": {"x": {"datum": 568}, "y": {"datum": -650}}}
      ]
    },
    {
      "title": "(b)",
      "width": 414,
      "height": 415,
      "encoding": {
        "x": {"field": "x", "type": "quantitative", "scale": {"domain": [-685, 556], "nice": false, "zero": false}, "axis": {"title": "PCA1 (30.1%)", "titlePadding": 8}},
        "y": {"field": "y", "type": "quantitative", "scale": {"domain": [-647, 598], "nice": false, "zero": false}, "axis": {"title": null}}
      },
      "layer": [
        {
          "data": {"name": "pts"},
          "transform": [{"filter": {"field": "m", "oneOf": ["AM", "EM", "NM"]}}],
          "mark": {"type": "circle", "size": 28, "opacity": 1},
          "encoding": {
            "color": {"field": "m", "type": "nominal", "scale": {"domain": ["AM", "EM", "NM", "ErM", "EM-AM"], "range": ["#aec7e8", "#1760a8", "#1a1a1a", "#f2c81e", "#e3117f"]},
              "legend": {"title": null, "orient": "none", "legendX": 256, "legendY": 332, "columns": 2, "symbolStrokeColor": "#333", "symbolStrokeWidth": 0.8}},
            "order": {"field": "m", "sort": "ascending"}
          }
        },
        {
          "data": {"name": "pts"},
          "transform": [{"filter": {"field": "m", "oneOf": ["ErM", "EM-AM"]}}],
          "mark": {"type": "circle", "size": 55, "opacity": 1, "stroke": "#222", "strokeWidth": 0.7},
          "encoding": {
            "color": {"field": "m", "type": "nominal", "scale": {"domain": ["AM", "EM", "NM", "ErM", "EM-AM"], "range": ["#aec7e8", "#1760a8", "#1a1a1a", "#f2c81e", "#e3117f"]}}
          }
        },
        {"data": {"name": "load"}, "mark": {"type": "rule", "color": "black", "strokeWidth": 1.4},
          "encoding": {"x": {"datum": 0}, "y": {"datum": 0}, "x2": {"field": "x"}, "y2": {"field": "y"}}},
        {"data": {"name": "load"}, "transform": [{"calculate": "atan2(datum.x, datum.y) * 180 / PI", "as": "ang"}],
          "mark": {"type": "point", "shape": "triangle", "filled": true, "color": "black", "size": 32, "opacity": 1},
          "encoding": {"angle": {"field": "ang", "type": "quantitative", "scale": null}}},
        {"data": {"name": "lab"}, "transform": [{"filter": "datum.p == 'b'"}],
          "mark": {"type": "text", "fontSize": 16, "color": "#111"},
          "encoding": {"text": {"field": "v"}}},
        {"data": {"values": [{"k": 1}]}, "mark": {"type": "point", "shape": "triangle-up", "filled": true, "color": "black", "size": 40, "opacity": 1},
          "encoding": {"x": {"datum": -685}, "y": {"datum": 598}}},
        {"data": {"values": [{"k": 1}]}, "mark": {"type": "point", "shape": "triangle-right", "filled": true, "color": "black", "size": 40, "opacity": 1},
          "encoding": {"x": {"datum": 556}, "y": {"datum": -647}}}
      ]
    },
    {
      "title": "(c)",
      "width": 414,
      "height": 415,
      "encoding": {
        "x": {"field": "x", "type": "quantitative", "scale": {"domain": [-697, 545], "nice": false, "zero": false}, "axis": {"title": null}},
        "y": {"field": "y", "type": "quantitative", "scale": {"domain": [-575.5, 556.4], "nice": false, "zero": false}, "axis": {"title": null}}
      },
      "layer": [
        {
          "data": {"name": "pts"},
          "mark": {"type": "circle", "size": 28, "opacity": 1},
          "encoding": {
            "color": {"field": "n", "type": "nominal", "scale": {"domain": ["F", "X"], "range": ["#f4d0a2", "#e04a38"]},
              "legend": {"title": null, "orient": "none", "legendX": 309, "legendY": 353, "labelExpr": "datum.label == 'F' ? 'Nonfixer' : 'N-fixer'",
                "symbolStrokeColor": "#333", "symbolStrokeWidth": 0.8}},
            "order": {"field": "n", "sort": "ascending"}
          }
        },
        {"data": {"name": "load"}, "mark": {"type": "rule", "color": "black", "strokeWidth": 1.4},
          "encoding": {"x": {"datum": 0}, "y": {"datum": 0}, "x2": {"field": "x"}, "y2": {"field": "y"}}},
        {"data": {"name": "load"}, "transform": [{"calculate": "atan2(datum.x, datum.y * 1.1) * 180 / PI", "as": "ang"}],
          "mark": {"type": "point", "shape": "triangle", "filled": true, "color": "black", "size": 32, "opacity": 1},
          "encoding": {"angle": {"field": "ang", "type": "quantitative", "scale": null}}},
        {"data": {"name": "lab"}, "transform": [{"filter": "datum.p == 'c'"}],
          "mark": {"type": "text", "fontSize": 16, "color": "#111"},
          "encoding": {"text": {"field": "v"}}},
        {"data": {"values": [{"k": 1}]}, "mark": {"type": "point", "shape": "triangle-up", "filled": true, "color": "black", "size": 40, "opacity": 1},
          "encoding": {"x": {"datum": -697}, "y": {"datum": 556.4}}},
        {"data": {"values": [{"k": 1}]}, "mark": {"type": "point", "shape": "triangle-right", "filled": true, "color": "black", "size": 40, "opacity": 1},
          "encoding": {"x": {"datum": 545}, "y": {"datum": -575.5}}}
      ]
    }
  ]
}
